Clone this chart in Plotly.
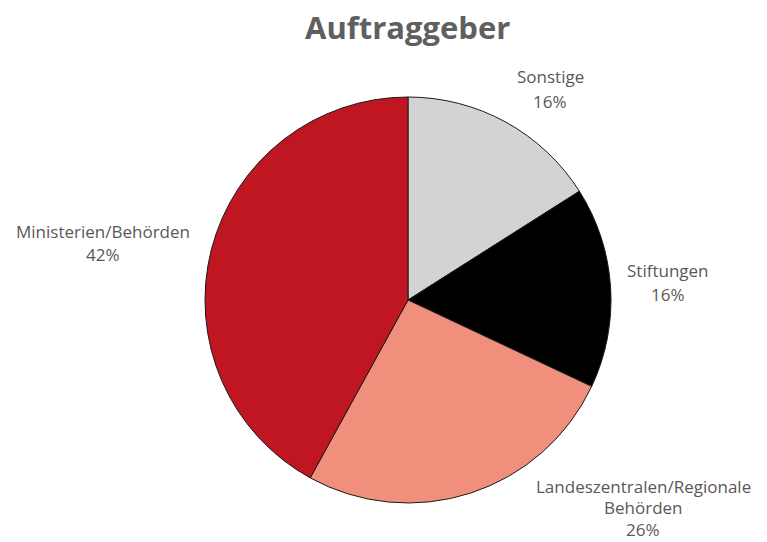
import plotly.graph_objects as go

# Data
categories = ["Sonstige", "Stiftungen", "Landeszentralen/Regionale Behörden", "Ministerien/Behörden"]
values = [16, 16, 26, 42]
label_lines = [["Sonstige"], ["Stiftungen"], ["Landeszentralen/Regionale", "Behörden"], ["Ministerien/Behörden"]]
colors = ["#D3D3D3", "#000000", "#F0907C", "#BF1622"]

W, H = 767, 542
# label anchors (pixel centers of first line) and line gaps
label_pos = [(550, 77), (668, 270), (643, 486), (103, 231)]
line_gaps = [24, 24, 21.5, 24]

total = sum(values)
annotations = []
for lines, v, (px, py), gap in zip(label_lines, values, label_pos, line_gaps):
    texts = lines + [f"{round(100 * v / total)}%"]
    for i, t in enumerate(texts):
        annotations.append(dict(
            text=t, x=px / W, y=1 - (py + i * gap) / H,
            xref="paper", yref="paper", xanchor="center", yanchor="middle",
            showarrow=False, font=dict(family="Open Sans", size=17, color="#595959"),
        ))

cx, cy, r = 408, 300, 203
fig = go.Figure(go.Pie(
    labels=categories, values=values, sort=False, direction="clockwise", rotation=0,
    marker=dict(colors=colors, line=dict(color="#1a1a1a", width=1)),
    textinfo="none", hoverinfo="label+percent", showlegend=False,
    domain=dict(x=[(cx - r) / W, (cx + r) / W], y=[1 - (cy + r) / H, 1 - (cy - r) / H]),
))

annotations.append(dict(
    text="<b>Auftraggeber</b>", x=407 / W, y=1 - 27 / H, xref="paper", yref="paper",
    xanchor="center", yanchor="middle", showarrow=False,
    font=dict(family="Open Sans", size=31, color="#5f5f5f"),
))

fig.update_layout(
    width=W, height=H, margin=dict(l=0, r=0, t=0, b=0),
    paper_bgcolor="white", plot_bgcolor="white",
    annotations=annotations,
)
fig.write_html("out.html", config={"displayModeBar": False},
               post_script="document.body.style.margin='0';document.body.style.overflow='hidden';")
